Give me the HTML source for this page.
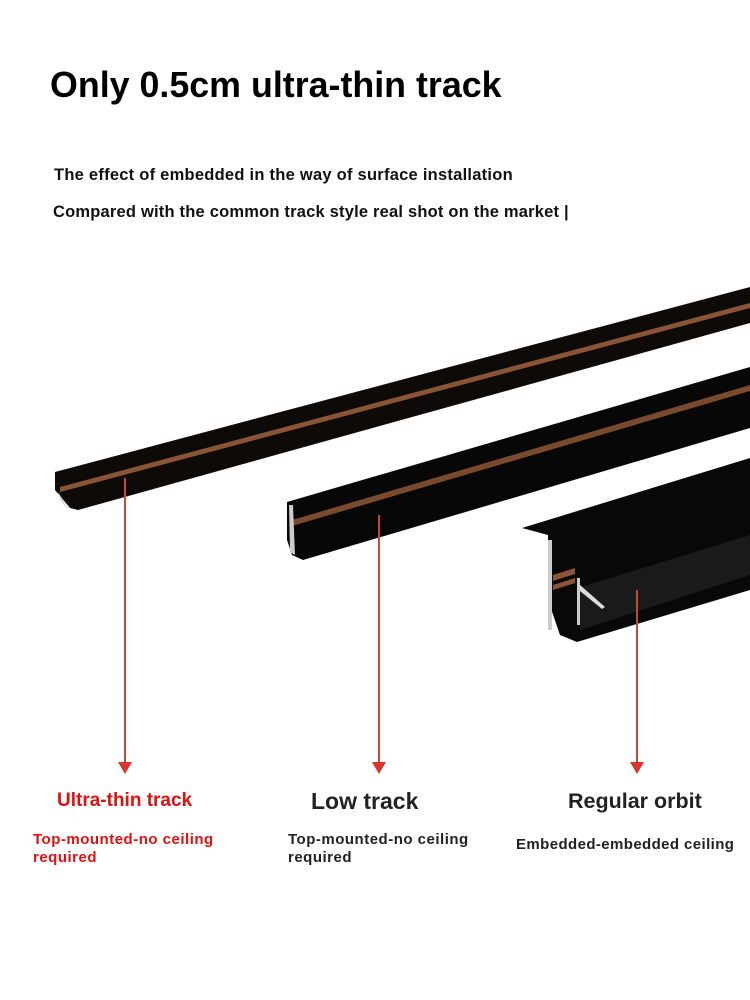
<!DOCTYPE html>
<html><head><meta charset="utf-8"><style>
body{margin:0;width:750px;height:1000px;background:#fff;position:relative;overflow:hidden;font-family:"Liberation Sans",sans-serif}
.t{position:absolute;white-space:nowrap;font-weight:bold}
</style></head><body>
<svg width="750" height="1000" style="position:absolute;left:0;top:0">
<polygon points="55,472 750,287 750,323 78,510 70,508 55,490" fill="#0d0a08"/>
<polygon points="60,487 750,303 750,308 60,492" fill="#8a5534"/>
<polygon points="58,492 66,505 68,510 60,500" fill="#ddd"/>
<polygon points="287,502 750,367 750,428 303,560 292,555 287,540" fill="#070707"/>
<polygon points="292,520 750,385 750,391 292,526" fill="#7a4a2c"/>
<polygon points="289,505 293,505 295,555 290,552" fill="#ccc"/>
<polygon points="522,528 750,458 750,590 577,642 560,635 548,600 548,535" fill="#080808"/>
<polygon points="578,588 750,535 750,575 580,630" fill="#1a1a1a"/>
<polygon points="548,540 552,540 552,630 548,630" fill="#ccc"/>
<polygon points="577,578 580,578 580,625 577,625" fill="#ccc"/>
<polygon points="553,575 575,568 575,574 553,581" fill="#8a5534"/>
<polygon points="553,585 575,578 575,583 553,590" fill="#8a5534"/>
<polygon points="580,585 605,607 602,609 580,591" fill="#ddd"/>
<g stroke="#c9473a" stroke-width="2"><line x1="125" y1="478" x2="125" y2="764"/><line x1="379" y1="515" x2="379" y2="764"/><line x1="637" y1="590" x2="637" y2="764"/></g>
<g fill="#d8362a"><polygon points="118,762 132,762 125,774"/><polygon points="372,762 386,762 379,774"/><polygon points="630,762 644,762 637,774"/></g>
</svg>
<div class="t" style="left:50px;top:65px;font-size:35.8px;color:#000">Only 0.5cm ultra-thin track</div>
<div class="t" style="left:54px;top:166px;font-size:16.5px;letter-spacing:0.25px;color:#111">The effect of embedded in the way of surface installation</div>
<div class="t" style="left:53px;top:203px;font-size:16.5px;letter-spacing:0.2px;color:#111">Compared with the common track style real shot on the market |</div>
<div class="t" style="left:57px;top:790px;font-size:19px;color:#e01010">Ultra-thin track</div>
<div class="t" style="left:311px;top:788px;font-size:23px;color:#222">Low track</div>
<div class="t" style="left:568px;top:789px;font-size:21.5px;color:#222">Regular orbit</div>
<div class="t" style="left:33px;top:831px;font-size:15px;letter-spacing:0.5px;color:#e01010;line-height:18px;white-space:normal;width:220px">Top-mounted-no ceiling required</div>
<div class="t" style="left:288px;top:831px;font-size:15px;letter-spacing:0.5px;color:#222;line-height:18px;white-space:normal;width:220px">Top-mounted-no ceiling required</div>
<div class="t" style="left:516px;top:836px;font-size:15px;letter-spacing:0.4px;color:#222">Embedded-embedded ceiling</div>
</body></html>
